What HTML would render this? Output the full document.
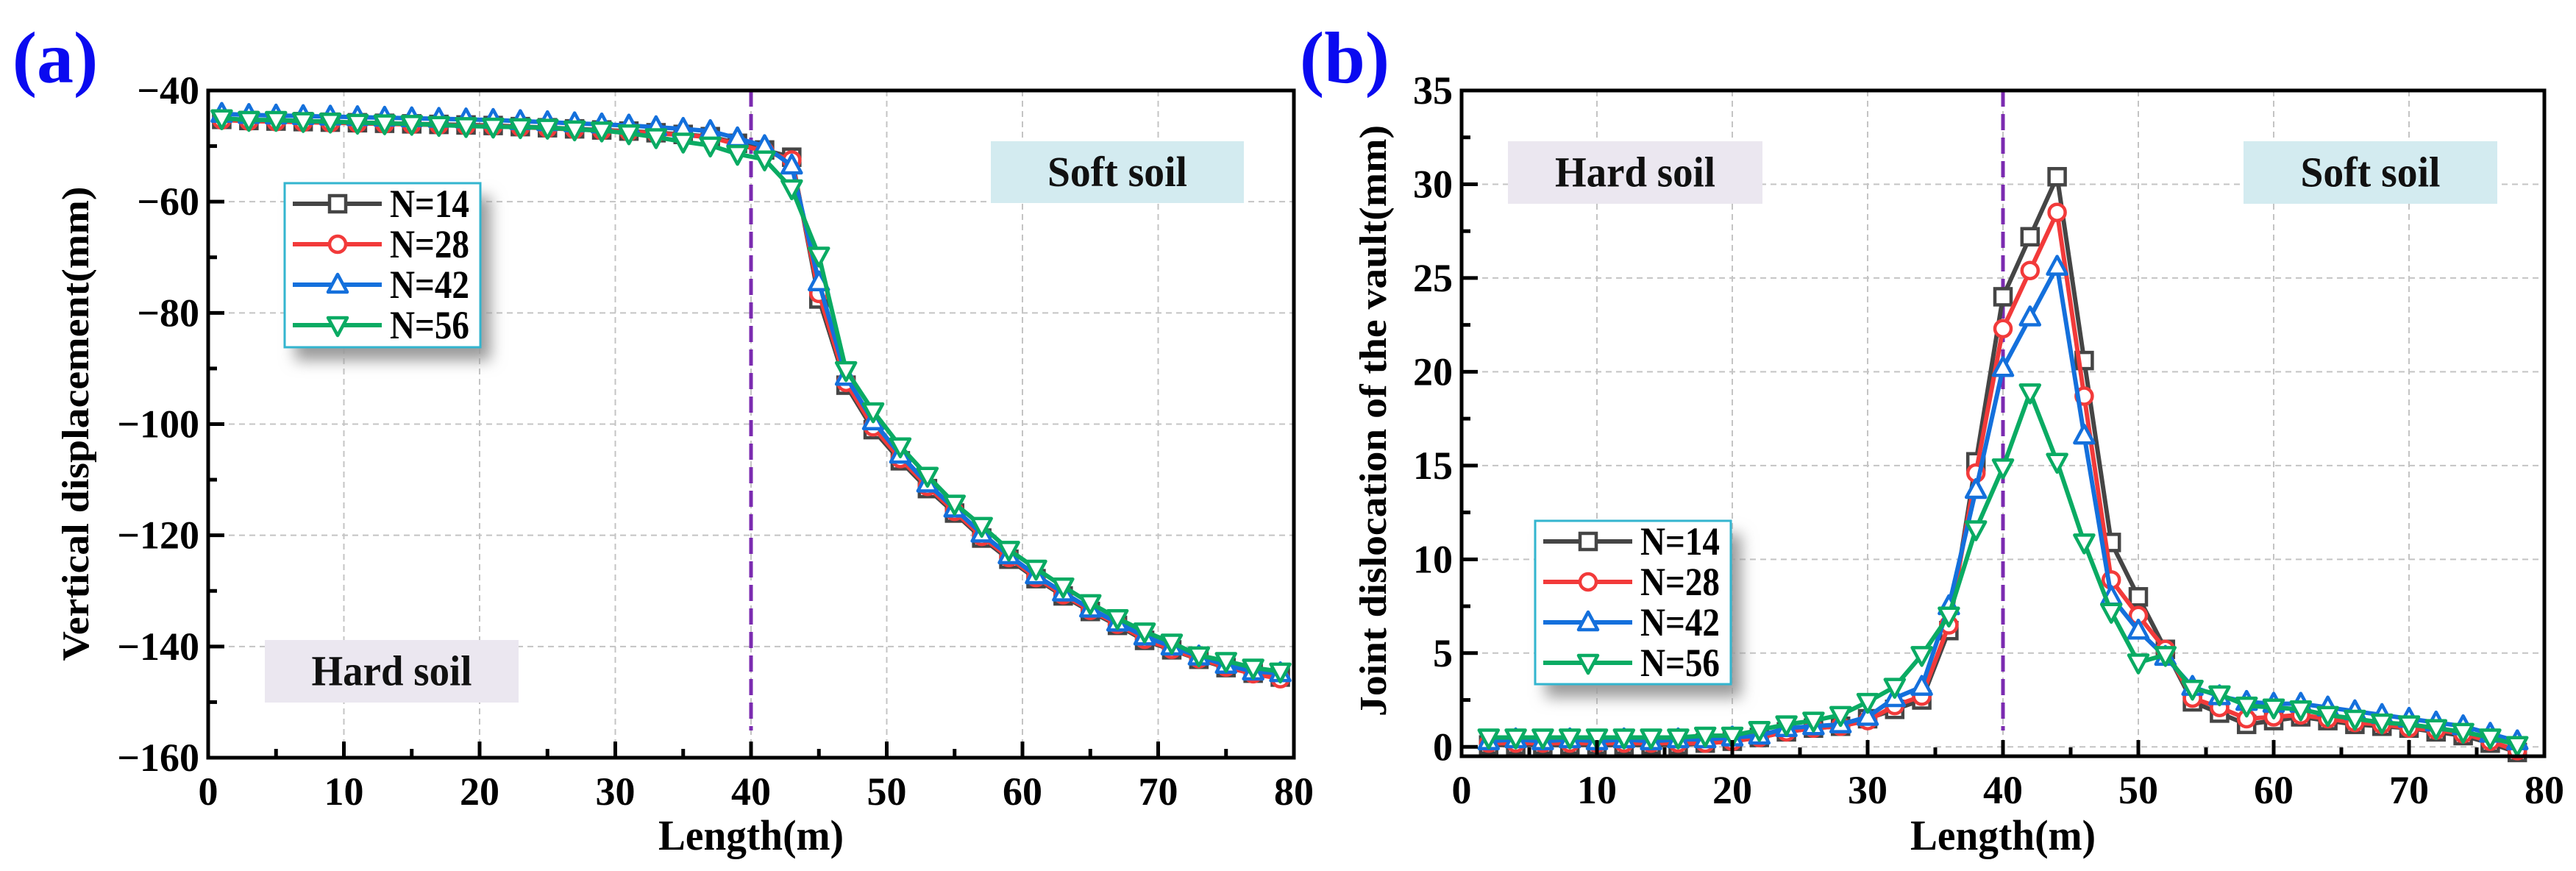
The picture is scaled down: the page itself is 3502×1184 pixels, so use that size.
<!DOCTYPE html>
<html><head><meta charset="utf-8">
<style>
html,body{margin:0;padding:0;background:#fff;}
svg{display:block;}
svg text{font-family:"Liberation Serif","Noto Serif CJK SC","DejaVu Serif",serif !important;font-weight:bold;}
</style></head>
<body>
<svg id="chart" width="3502" height="1184" viewBox="0 0 3502 1184" xmlns="http://www.w3.org/2000/svg" font-family="Liberation Serif, Noto Serif CJK SC, serif" font-weight="bold">
<defs>
<filter id="shadow" x="-20%" y="-20%" width="150%" height="150%"><feGaussianBlur stdDeviation="10"/></filter>
</defs>
</svg>
<script>
// ---- Panel (a) data ----
const xA = [1,3,5,7,9,11,13,15,17,19,21,23,25,27,29,31,33,35,37,39,41,43,45,47,49,51,53,55,57,59,61,63,65,67,69,71,73,75,77,79];
const a14 = [-45.2,-45.4,-45.5,-45.6,-45.7,-45.8,-45.9,-46,-46.1,-46.2,-46.3,-46.5,-46.7,-46.9,-47.1,-47.3,-47.6,-47.9,-48.3,-49.5,-50.7,-52,-77.5,-93,-101,-106.6,-111.6,-116,-120.5,-124.3,-127.8,-130.9,-133.7,-136.2,-138.9,-140.6,-142.3,-143.8,-144.8,-145.5];
const a28 = [-45.3,-45.5,-45.6,-45.7,-45.8,-45.9,-46,-46.1,-46.2,-46.3,-46.4,-46.6,-46.8,-47,-47.2,-47.4,-47.7,-48,-48.4,-49.7,-50.9,-52.5,-76.5,-92.5,-100.5,-106.2,-111.2,-115.7,-120.2,-124,-127.6,-130.7,-133.5,-136,-138.7,-140.5,-142.2,-143.7,-144.9,-145.8];
const a42 = [-44.2,-44.4,-44.5,-44.6,-44.7,-44.8,-44.9,-45,-45.1,-45.2,-45.3,-45.5,-45.7,-45.9,-46.1,-46.3,-46.6,-46.9,-47.3,-48.6,-50,-53.5,-74.5,-91.5,-99.5,-105.5,-110.7,-115.2,-119.7,-123.6,-127.2,-130.3,-133.2,-135.7,-138.2,-140,-141.8,-143.3,-144.5,-144.8];
const a56 = [-45,-45.3,-45.3,-45.5,-45.6,-45.8,-45.9,-46,-46.2,-46.4,-46.5,-46.6,-46.7,-47,-47.2,-47.7,-48.4,-49.2,-49.9,-51.4,-52.4,-57.6,-69.7,-90.3,-97.7,-104,-109.3,-114.3,-118.3,-122.6,-126,-129.2,-132.2,-134.9,-137.3,-139.3,-141.6,-142.6,-143.8,-144.5];
// ---- Panel (b) data ----
const xB = [2,4,6,8,10,12,14,16,18,20,22,24,26,28,30,32,34,36,38,40,42,44,46,48,50,52,54,56,58,60,62,64,66,68,70,72,74,76,78];
const b14 = [0.1,0.1,0.1,0.1,0.1,0.1,0.1,0.1,0.2,0.3,0.5,0.8,1.0,1.1,1.5,2.0,2.5,6.2,15.2,24.0,27.2,30.4,20.6,10.9,8.0,5.2,2.4,1.8,1.2,1.4,1.6,1.4,1.2,1.1,1.0,0.8,0.6,0.2,-0.3];
const b28 = [0.2,0.2,0.2,0.2,0.2,0.2,0.2,0.2,0.2,0.3,0.5,0.8,1.0,1.1,1.4,2.2,2.7,6.5,14.6,22.3,25.4,28.5,18.7,8.9,7.0,5.2,2.6,2.1,1.5,1.6,1.7,1.5,1.3,1.2,1.0,0.9,0.7,0.3,-0.2];
const b42 = [0.3,0.4,0.3,0.4,0.3,0.4,0.3,0.4,0.4,0.5,0.6,1.0,1.1,1.2,1.6,2.6,3.2,7.5,13.7,20.2,22.9,25.6,16.6,8.0,6.2,4.8,3.2,2.7,2.4,2.3,2.3,2.1,1.9,1.7,1.5,1.3,1.1,0.7,0.3];
const b56 = [0.5,0.5,0.5,0.5,0.5,0.5,0.5,0.5,0.6,0.6,0.9,1.2,1.4,1.7,2.4,3.2,4.9,7.0,11.6,14.9,18.9,15.2,10.9,7.2,4.5,4.9,3.1,2.8,2.2,2.1,2.0,1.7,1.5,1.3,1.2,1.0,0.8,0.5,0.1];
const xTicks = [0,10,20,30,40,50,60,70,80];
const yTicksA = [-160,-140,-120,-100,-80,-60,-40];
const yTicksB = [0,5,10,15,20,25,30,35];
const seriesNames = ["N=14","N=28","N=42","N=56"];

const NS="http://www.w3.org/2000/svg";
const svg=document.getElementById('chart');
const FF='Liberation Serif, Noto Serif CJK SC, DejaVu Serif, serif';
function el(tag,attrs,parent){const e=document.createElementNS(NS,tag);for(const k in attrs)e.setAttribute(k,attrs[k]);
  if(tag==='text'){e.setAttribute('font-family',FF);e.setAttribute('font-weight','bold');e.style.fontFamily='"Liberation Serif", "Noto Serif CJK SC", "DejaVu Serif", serif';}
  (parent||svg).appendChild(e);return e;}
const colors=["#454545","#f23a3a","#1470dc","#0aab63"];
const markers=["square","circle","up","down"];
function marker(g,type,cx,cy,c){
  const s=12;
  let m;
  if(type==="square") m=el('rect',{x:cx-s+1,y:cy-s+1,width:2*s-2,height:2*s-2,fill:'#fff',stroke:c,'stroke-width':4.5},g);
  else if(type==="circle") m=el('circle',{cx:cx,cy:cy,r:s-1,fill:'#fff',stroke:c,'stroke-width':4.5},g);
  else if(type==="up") m=el('polygon',{points:`${cx},${cy-s-2} ${cx+s+1},${cy+s-2} ${cx-s-1},${cy+s-2}`,fill:'#fff',stroke:c,'stroke-width':4.5,'stroke-linejoin':'round'},g);
  else m=el('polygon',{points:`${cx},${cy+s+2} ${cx+s+1},${cy-s+2} ${cx-s-1},${cy-s+2}`,fill:'#fff',stroke:c,'stroke-width':4.5,'stroke-linejoin':'round'},g);
  return m;
}

function panel(cfg){
  const {L,R,T,B,ymin,ymax,yTicks,yMinorStep,xs,series,id}=cfg;
  const X=v=>L+(v-0)/(80-0)*(R-L);
  const Y=v=>B-(v-ymin)/(ymax-ymin)*(B-T);
  const g=el('g',{});
  
  
  const grid=el('g',{},g);
  
  
  xTicks.forEach(v=>{ if(v>0&&v<80){const l=el('line',{x1:X(v),x2:X(v),y1:T,y2:B,stroke:'#c4c4c4','stroke-width':2,'stroke-dasharray':'8,6'},grid);
    }});
  yTicks.forEach(v=>{ const y=Y(v); if(y>T+3&&y<B-3){const l=el('line',{x1:L,x2:R,y1:y,y2:y,stroke:'#c4c4c4','stroke-width':2,'stroke-dasharray':'8,6'},grid);
    }});
  cfg.boxes.forEach(b=>{
    const bg=el('g',{},g);
    
    
    el('rect',{x:b.x,y:b.y,width:b.w,height:b.h,fill:b.fill},bg);
    const t=el('text',{x:b.x+b.w/2,y:b.y+b.h/2+19,'font-size':58,'text-anchor':'middle',fill:'#111',textLength:b.tl,lengthAdjust:'spacingAndGlyphs'},bg);
    t.textContent=b.text;
  });
  const dv=el('line',{x1:X(40),x2:X(40),y1:T,y2:cfg.divB,stroke:'#7b2bb0','stroke-width':5,'stroke-dasharray':'22,10'},g);
  
  
  series.forEach((s,i)=>{
    const sg=el('g',{},g);
    
    
    const pts=xs.map((x,j)=>X(x).toFixed(1)+','+Y(s[j]).toFixed(1)).join(' ');
    el('polyline',{points:pts,fill:'none',stroke:colors[i],'stroke-width':6,'stroke-linejoin':'round'},sg);
    xs.forEach((x,j)=>{const m=marker(sg,markers[i],X(x),Y(s[j]),colors[i]);
      
      });
  });
  const fr=el('rect',{x:L,y:T,width:R-L,height:B-T,fill:'none',stroke:'#000','stroke-width':5},g);
  
  
  for(let v=0;v<=80;v+=5){const major=v%10===0;
    const t=el('line',{x1:X(v),x2:X(v),y1:B,y2:B-(major?22:12),stroke:'#000','stroke-width':5},g);
    }
  xTicks.forEach(v=>{const t=el('text',{x:X(v),y:B+64,'font-size':54,'text-anchor':'middle',fill:'#000'},g);
    
    t.textContent=String(v);});
  for(let v=yTicks[0];v<=ymax+0.001;v+=yMinorStep){const major=yTicks.some(t=>Math.abs(t-v)<1e-6);
    const t=el('line',{x1:L,x2:L+(major?22:12),y1:Y(v),y2:Y(v),stroke:'#000','stroke-width':5},g);
    }
  yTicks.forEach(v=>{const t=el('text',{x:L-12,y:Y(v)+18,'font-size':54,'text-anchor':'end',fill:'#000'},g);
    
    t.textContent=(v<0?'\u2212'+(-v):String(v));});
  const xt=el('text',{x:(L+R)/2,y:1155,'font-size':58,'text-anchor':'middle',fill:'#000',textLength:252,lengthAdjust:'spacingAndGlyphs'},g);
  
  xt.textContent='Length(m)';
  const yt=el('text',{x:0,y:0,'font-size':52,'text-anchor':'middle',fill:'#000',transform:`translate(${cfg.ytX},${cfg.ytY}) rotate(-90)`,textLength:cfg.ytLen,lengthAdjust:'spacingAndGlyphs'},g);
  
  yt.textContent=cfg.ytText;
  const pl=el('text',{x:cfg.plX,y:112,'font-size':100,'text-anchor':'middle',fill:'#0a0af0'},g);
  
  pl.textContent=cfg.label;
  const lg=el('g',{},g);
  
  
  const lb=cfg.legend;
  el('rect',{x:lb.x+14,y:lb.y+18,width:lb.w,height:lb.h,fill:'#9a9a9a',filter:'url(#shadow)'},lg);
  el('rect',{x:lb.x,y:lb.y,width:lb.w,height:lb.h,fill:'#fff',stroke:'#33b5cf','stroke-width':3},lg);
  seriesNames.forEach((n,i)=>{
    const eg=el('g',{},lg);
    
    
    const y=lb.y+28+i*55;
    el('line',{x1:lb.x+11,x2:lb.x+132,y1:y,y2:y,stroke:colors[i],'stroke-width':6},eg);
    marker(eg,markers[i],lb.x+72,y,colors[i]);
    const t=el('text',{x:lb.x+143,y:y+18,'font-size':54,fill:'#000',textLength:108,lengthAdjust:'spacingAndGlyphs'},eg);
    t.textContent=n;
  });
}

panel({id:'displacement',L:283,R:1759,T:123,B:1030,ymin:-160,ymax:-40,yTicks:yTicksA,yMinorStep:10,xs:xA,series:[a14,a28,a42,a56],
  divB:993,ytX:120,ytY:576,ytLen:645,ytText:'Vertical displacement(mm)',plX:75,label:'(a)',
  legend:{x:387,y:249,w:266,h:223},
  boxes:[{name:'soft-soil-label',x:1347,y:192,w:344,h:84,fill:'#d3ebf0',text:'Soft soil',tl:190},
         {name:'hard-soil-label',x:360,y:870,w:345,h:85,fill:'#ebe7f0',text:'Hard soil',tl:218}]});
panel({id:'dislocation',L:1987,R:3459,T:123,B:1028,ymin:-0.5,ymax:35,yTicks:yTicksB,yMinorStep:2.5,xs:xB,series:[b14,b28,b42,b56],
  divB:993,ytX:1884,ytY:572,ytLen:804,ytText:'Joint dislocation of the vault(mm)',plX:1828,label:'(b)',
  legend:{x:2087,y:708,w:266,h:222},
  boxes:[{name:'hard-soil-label',x:2050,y:192,w:346,h:85,fill:'#ebe7f0',text:'Hard soil',tl:218},
         {name:'soft-soil-label',x:3050,y:192,w:345,h:85,fill:'#d3ebf0',text:'Soft soil',tl:190}]});
</script>
</body></html>
